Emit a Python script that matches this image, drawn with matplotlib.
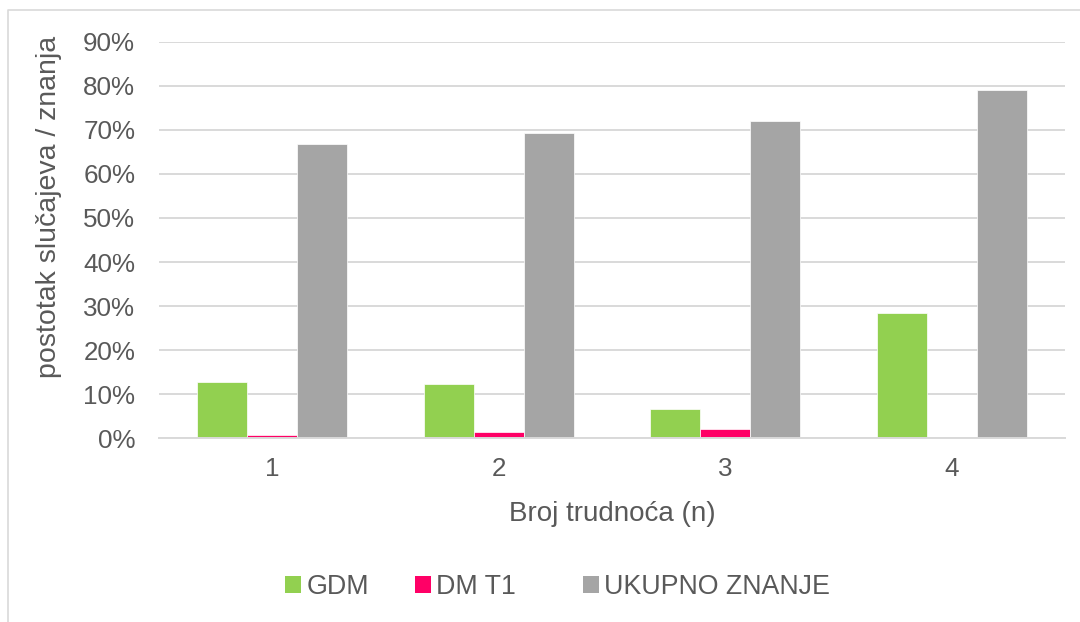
import numpy as np
import matplotlib.pyplot as plt
from matplotlib.lines import Line2D
from matplotlib.patches import Patch

plt.rcParams['font.family'] = ['Liberation Sans', 'DejaVu Sans']

categories = ['1', '2', '3', '4']
gdm = [0.127, 0.122, 0.065, 0.284]
dm_t1 = [0.006, 0.014, 0.021, 0.0]
ukupno = [0.668, 0.693, 0.721, 0.791]
series_names = ['GDM', 'DM T1', 'UKUPNO ZNANJE']
colors = ['#92d050', '#ff0066', '#a5a5a5']
yticks = np.arange(0, 0.91, 0.1)

txt = '#595959'
fig = plt.figure(figsize=(10.8, 6.22), dpi=100)
ax = fig.add_axes([0.147, 0.2958, 0.839, 0.6367])

x = np.arange(len(categories))
w = 0.2208
for i, (vals, c) in enumerate(zip([gdm, dm_t1, ukupno], colors)):
    ax.bar(x + (i - 1) * w, vals, w, color=c, edgecolor='white', linewidth=0.5, zorder=3)

ax.set_xlim(-0.5, 3.5)
ax.set_ylim(0, 0.9)
ax.set_yticks(yticks)
ax.set_yticklabels([f'{int(round(t * 100))}%' for t in yticks])
ax.set_xticks(x)
ax.set_xticklabels(categories)
ax.tick_params(axis='both', length=0, labelsize=18.7, colors=txt)
ax.tick_params(axis='y', pad=17)
ax.tick_params(axis='x', pad=14)
ax.grid(axis='y', color='#d9d9d9', linewidth=1.4, zorder=0)
for s in ['top', 'right', 'left']:
    ax.spines[s].set_visible(False)
ax.spines['bottom'].set_color('#d9d9d9')
ax.spines['bottom'].set_linewidth(1.4)
ax.spines['bottom'].set_zorder(4)

ax.set_xlabel('Broj trudnoća (n)', fontsize=20, color=txt)
ax.xaxis.set_label_coords(0.5, -0.16)
fig.text(49 / 1080, 1 - 207 / 622, 'postotak slučajeva / znanja', rotation=90,
         ha='center', va='center', fontsize=20.5, color=txt)

# legend entries sit at fixed slots like the original
legend_x = [285, 415, 583]
for name, c, lx in zip(series_names, colors, legend_x):
    fig.legend([Patch(facecolor=c, edgecolor='none')], [name], loc='center left',
               bbox_to_anchor=(lx / 1080, 1 - 587 / 622), frameon=False,
               fontsize=19.3, labelcolor=txt, borderpad=0, borderaxespad=0,
               handlelength=0.6, handleheight=0.6, handletextpad=0.2)

# outer chart frame
fig.add_artist(Line2D([8 / 1080, 8 / 1080, 1.0], [0.0, 1 - 10 / 622, 1 - 10 / 622],
                      transform=fig.transFigure, color='#d9d9d9', linewidth=1.2))

fig.savefig('out.png', dpi=100)
